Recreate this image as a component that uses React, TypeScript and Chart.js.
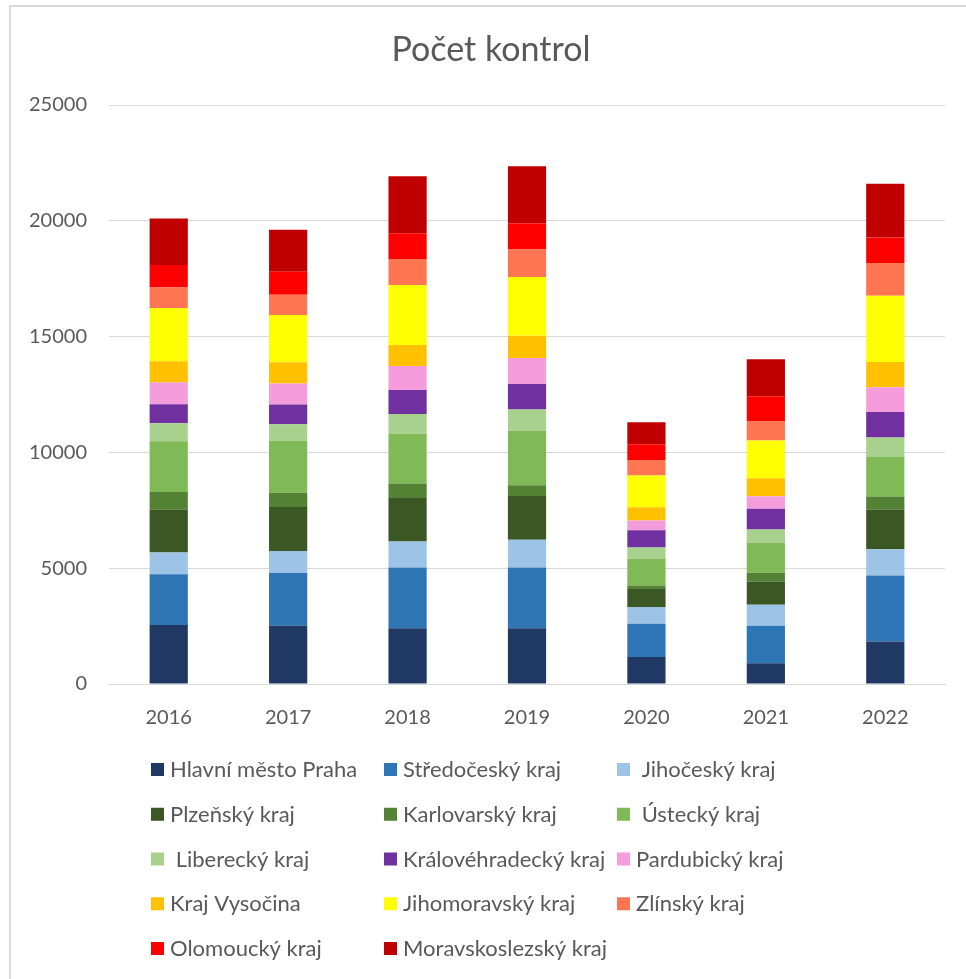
import React, { useEffect, useRef } from "react";
import { Chart, registerables } from "chart.js";

Chart.register(...registerables);

const years = ["2016", "2017", "2018", "2019", "2020", "2021", "2022"];

const praha = [2543, 2513, 2405, 2405, 1165, 891, 1840];
const stredocesky = [2198, 2284, 2624, 2624, 1438, 1625, 2847];
const jihocesky = [935, 948, 1122, 1195, 719, 906, 1136];
const plzensky = [1853, 1896, 1880, 1895, 776, 1006, 1711];
const karlovarsky = [759, 621, 627, 466, 158, 374, 561];
const ustecky = [2198, 2241, 2157, 2347, 1150, 1308, 1711];
const liberecky = [776, 715, 845, 918, 489, 561, 834];
const kralovehradecky = [819, 849, 1035, 1108, 748, 891, 1107];
const pardubicky = [935, 905, 1035, 1122, 417, 546, 1064];
const vysocina = [918, 918, 904, 962, 575, 776, 1093];
const jihomoravsky = [2302, 2043, 2595, 2536, 1366, 1625, 2861];
const zlinsky = [888, 875, 1122, 1181, 676, 820, 1409];
const olomoucky = [965, 991, 1108, 1137, 676, 1093, 1107];
const moravskoslezsky = [2008, 1810, 2464, 2464, 949, 1596, 2315];

const chartTitle = "Počet kontrol";

const seriesNames = [
  "Hlavní město Praha",
  "Středočeský kraj",
  " Jihočeský kraj",
  "Plzeňský kraj",
  "Karlovarský kraj",
  " Ústecký kraj",
  " Liberecký kraj",
  "Královéhradecký kraj",
  "Pardubický kraj",
  "Kraj Vysočina",
  "Jihomoravský kraj",
  "Zlínský kraj",
  "Olomoucký kraj",
  "Moravskoslezský kraj",
];

const seriesValues = [
  praha,
  stredocesky,
  jihocesky,
  plzensky,
  karlovarsky,
  ustecky,
  liberecky,
  kralovehradecky,
  pardubicky,
  vysocina,
  jihomoravsky,
  zlinsky,
  olomoucky,
  moravskoslezsky,
];

const seriesColors = [
  "#1F3864",
  "#2E75B6",
  "#9DC3E6",
  "#3A5724",
  "#548235",
  "#80BA57",
  "#A9D18E",
  "#7030A0",
  "#F59CDD",
  "#FFC000",
  "#FFFF00",
  "#FF7552",
  "#FF0000",
  "#C00000",
];

const yTicks = [0, 5000, 10000, 15000, 20000, 25000];

const FONT = "Lato, 'Open Sans', sans-serif";
const TEXT = "#595959";

const gridLegend = {
  id: "gridLegend",
  afterDraw(chart: any) {
    const { ctx, chartArea, width } = chart;
    ctx.save();
    // title
    ctx.font = `34px ${FONT}`;
    ctx.fillStyle = TEXT;
    ctx.textAlign = "center";
    ctx.textBaseline = "middle";
    ctx.fillText(chartTitle, width / 2 + 8, 50);

    // legend grid
    const colW = 233;
    const rowH = 44.75;
    const x0 = chartArea.left + 42;
    const y0 = chartArea.bottom + 86;
    ctx.font = `22px ${FONT}`;
    ctx.textBaseline = "middle";
    ctx.textAlign = "left";
    chart.data.datasets.forEach((ds: any, i: number) => {
      const col = i % 3;
      const row = Math.floor(i / 3);
      const x = x0 + col * colW;
      const y = y0 + row * rowH;
      ctx.fillStyle = ds.backgroundColor;
      ctx.fillRect(x, y - 7, 13, 13);
      ctx.fillStyle = TEXT;
      ctx.fillText(ds.label, x + 19, y);
    });
    ctx.restore();
  },
};

const frame = {
  id: "frame",
  beforeDraw(chart: any) {
    const { ctx, width, height } = chart;
    ctx.save();
    ctx.fillStyle = "#FFFFFF";
    ctx.fillRect(0, 0, width, height);
    ctx.strokeStyle = "#D9D9D9";
    ctx.lineWidth = 2;
    ctx.beginPath();
    ctx.moveTo(10, height + 5);
    ctx.lineTo(10, 6);
    ctx.lineTo(width + 5, 6);
    ctx.stroke();
    ctx.restore();
  },
};

export default function App() {
  const ref = useRef<HTMLCanvasElement | null>(null);

  useEffect(() => {
    if (!ref.current) return;
    const chart = new Chart(ref.current, {
      type: "bar",
      data: {
        labels: years,
        datasets: seriesNames.map((name, i) => ({
          label: name,
          data: seriesValues[i],
          backgroundColor: seriesColors[i],
          borderWidth: 0,
          categoryPercentage: 1,
          barPercentage: 0.32,
        })),
      },
      options: {
        animation: false,
        responsive: false,
        maintainAspectRatio: false,
        layout: { padding: { left: 7, right: 21, top: 105, bottom: 227 } },
        plugins: {
          legend: { display: false },
          tooltip: { enabled: false },
          title: { display: false },
        },
        scales: {
          x: {
            stacked: true,
            grid: { display: false, drawTicks: false },
            border: { display: true, color: "#D9D9D9", width: 1 },
            ticks: { color: TEXT, font: { family: FONT, size: 20 }, padding: 22 },
          },
          y: {
            stacked: true,
            min: 0,
            max: 25000,
            afterBuildTicks: (axis: any) => {
              axis.ticks = yTicks.map((v) => ({ value: v }));
            },
            grid: { color: "#D9D9D9", lineWidth: 1, drawTicks: false },
            border: { display: false },
            ticks: {
              color: TEXT,
              font: { family: FONT, size: 20 },
              padding: 22,
              callback: (v: any) => String(v),
            },
          },
        },
      },
      plugins: [frame, gridLegend],
    });
    return () => chart.destroy();
  }, []);

  return (
    <div style={{ position: "fixed", left: 0, top: 0, width: 966, height: 979 }}>
      <canvas ref={ref} width={966} height={979} style={{ display: "block", width: 966, height: 979 }} />
    </div>
  );
}
